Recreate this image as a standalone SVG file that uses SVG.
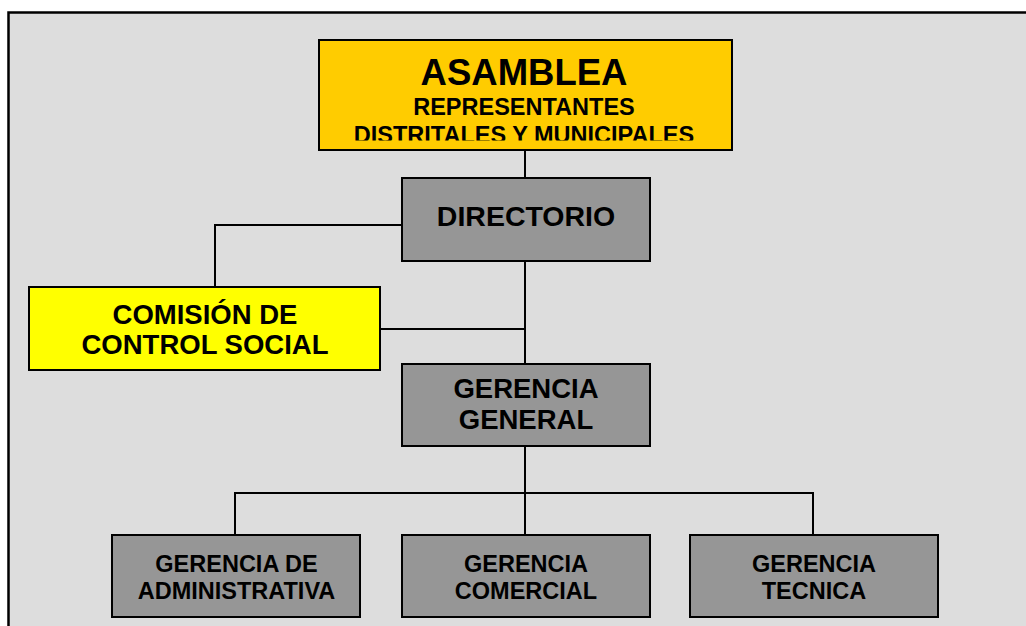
<svg xmlns="http://www.w3.org/2000/svg" width="1026" height="626" viewBox="0 0 1026 626">
  <defs>
    <style>
      .box { stroke: #000; stroke-width: 2; }
      .gray { fill: #969696; }
      .conn { stroke: #000; stroke-width: 2; fill: none; }
      text { font-family: "Liberation Sans", Arial, sans-serif; font-weight: bold; fill: #000; text-anchor: middle; }
    </style>
    <clipPath id="asmClip">
      <rect x="319" y="40" width="413" height="100.5"/>
    </clipPath>
  </defs>
  <rect x="0" y="0" width="1026" height="626" fill="#ffffff"/>
  <rect x="8.5" y="12.5" width="1040" height="640" fill="#dddddd" stroke="#000" stroke-width="2.5"/>

  <g id="connectors">
    <line class="conn" x1="525" y1="150" x2="525" y2="178"/>
    <line class="conn" x1="525" y1="261" x2="525" y2="364"/>
    <polyline class="conn" points="402,225 215,225 215,287"/>
    <line class="conn" x1="380" y1="329" x2="525" y2="329"/>
    <line class="conn" x1="525" y1="446" x2="525" y2="493"/>
    <line class="conn" x1="234" y1="493" x2="814" y2="493"/>
    <line class="conn" x1="235" y1="493" x2="235" y2="535"/>
    <line class="conn" x1="525" y1="493" x2="525" y2="535"/>
    <line class="conn" x1="813" y1="493" x2="813" y2="535"/>
  </g>

  <g id="asamblea">
    <rect class="box" x="319" y="40" width="413" height="110" fill="#ffcc00"/>
    <text x="524" y="85" font-size="36.5">ASAMBLEA</text>
    <text x="524" y="115" font-size="23.5">REPRESENTANTES</text>
    <text x="524" y="142.5" font-size="23.5" clip-path="url(#asmClip)">DISTRITALES Y MUNICIPALES</text>
  </g>

  <g id="directorio">
    <rect class="box gray" x="402" y="178" width="248" height="83"/>
    <text x="526" y="226" font-size="28.5">DIRECTORIO</text>
  </g>

  <g id="comision">
    <rect class="box" x="29" y="287" width="351" height="83" fill="#ffff00"/>
    <text x="205" y="324" font-size="27.5">COMISIÓN DE</text>
    <text x="205" y="354" font-size="27.5">CONTROL SOCIAL</text>
  </g>

  <g id="gerencia-general">
    <rect class="box gray" x="402" y="364" width="248" height="82"/>
    <text x="526" y="398" font-size="27.5">GERENCIA</text>
    <text x="526" y="429" font-size="27.5">GENERAL</text>
  </g>

  <g id="gerencia-administrativa">
    <rect class="box gray" x="112" y="535" width="248" height="82"/>
    <text x="236.5" y="572" font-size="23.5">GERENCIA DE</text>
    <text x="236.5" y="599" font-size="23.5">ADMINISTRATIVA</text>
  </g>

  <g id="gerencia-comercial">
    <rect class="box gray" x="402" y="535" width="248" height="82"/>
    <text x="526" y="572" font-size="23.5">GERENCIA</text>
    <text x="526" y="599" font-size="23.5">COMERCIAL</text>
  </g>

  <g id="gerencia-tecnica">
    <rect class="box gray" x="690" y="535" width="248" height="82"/>
    <text x="814" y="572" font-size="23.5">GERENCIA</text>
    <text x="814" y="599" font-size="23.5">TECNICA</text>
  </g>
</svg>
